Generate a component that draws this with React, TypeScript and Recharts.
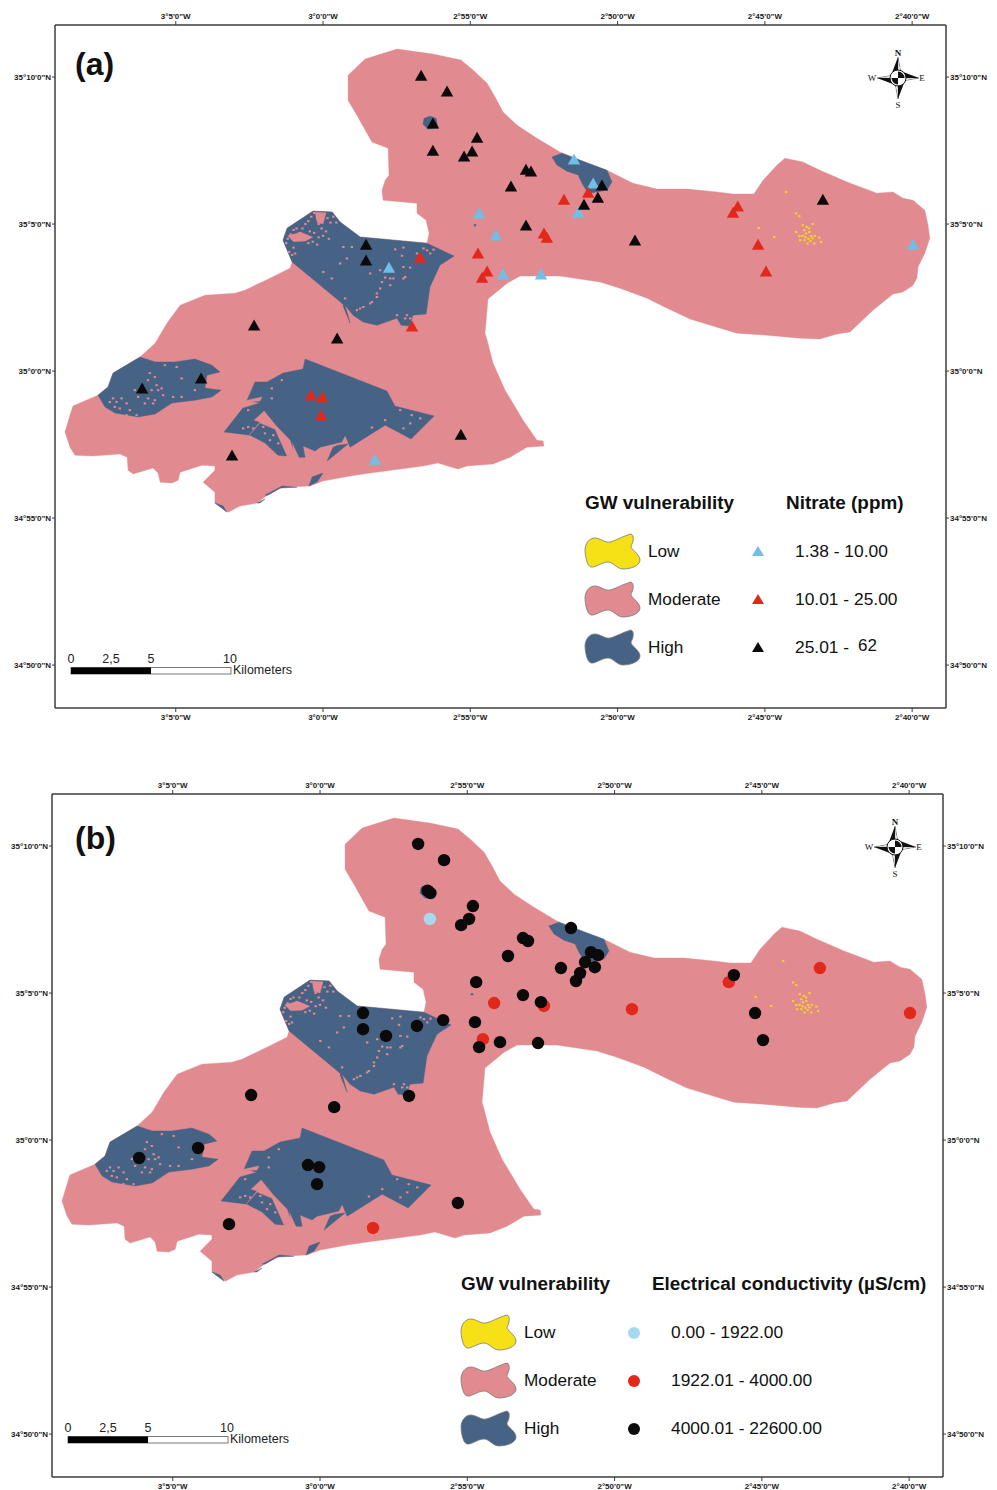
import { Scatter, ScatterChart, XAxis, YAxis } from 'recharts'

// all map data in arc minutes: x east of 3°W, y north of 35°N
type Pair = [number, number]

const lonTicks = [-5, 0, 5, 10, 15, 20]
const lonLabels = ['3°5\'0"W', '3°0\'0"W', '2°55\'0"W', '2°50\'0"W', '2°45\'0"W', '2°40\'0"W']
const latTicks = [10, 5, 0, -5, -10]
const latLabels = ['35°10\'0"N', '35°5\'0"N', '35°0\'0"N', '34°55\'0"N', '34°50\'0"N']

const moderateZone: Pair[] = [
  [0.85, 10.06], [1.43, 10.61], [2.51, 10.95], [3.73, 10.78], [4.68, 10.58], [5.09, 10.24], [5.57, 9.79], [5.84, 9.32],
  [6.11, 8.81], [6.59, 8.36], [7.26, 7.92], [8.04, 7.45], [8.96, 7.07], [9.64, 6.83], [10.18, 6.56], [10.52, 6.39],
  [11.34, 6.19], [12.36, 6.19], [13.37, 6.09], [13.92, 6.02], [14.63, 6.02], [14.94, 6.49], [15.41, 7.0], [15.68, 7.24],
  [16.29, 7.11], [16.87, 6.83], [17.79, 6.43], [18.8, 6.05], [19.35, 6.09], [19.69, 5.88], [20.03, 5.81], [20.43, 5.47],
  [20.54, 4.96], [20.6, 4.52], [20.43, 4.01], [20.2, 3.54], [20.16, 3.16], [20.03, 2.92], [19.69, 2.69], [19.35, 2.62],
  [18.67, 2.07], [17.89, 1.33], [17.45, 1.26], [16.87, 1.09], [16.19, 1.12], [15.07, 1.22], [14.05, 1.29], [13.24, 1.53],
  [12.46, 1.77], [11.68, 2.14], [11.0, 2.48], [10.08, 2.82], [9.4, 3.03], [8.04, 3.23], [6.69, 3.23], [6.25, 2.99],
  [5.6, 2.45], [5.5, 1.29], [5.57, 1.05], [5.77, 0.27], [6.18, -0.65], [6.79, -1.67], [7.26, -2.35], [7.47, -2.38],
  [7.5, -2.55], [6.92, -2.59], [6.35, -2.93], [5.77, -3.16], [4.89, -3.23], [4.58, -3.33], [3.9, -3.13], [3.39, -3.23],
  [1.6, -3.47], [0.92, -3.57], [0, -3.74], [-0.44, -3.91], [-1.36, -3.95], [-1.9, -4.22], [-2.24, -4.49], [-2.82, -4.59],
  [-3.22, -4.8], [-3.67, -4.49], [-3.67, -4.12], [-4.07, -3.78], [-3.67, -3.37], [-3.67, -3.23], [-4.11, -3.2], [-4.85, -3.44],
  [-4.92, -3.71], [-5.13, -3.81], [-5.53, -3.78], [-5.6, -3.47], [-5.77, -3.3], [-6.45, -3.5], [-6.62, -3.37], [-6.65, -2.93],
  [-6.89, -2.82], [-7.84, -2.89], [-8.42, -2.86], [-8.59, -2.59], [-8.76, -2.07], [-8.59, -1.5], [-8.49, -1.19], [-7.64, -0.82],
  [-7.3, -0.54], [-7.13, -0.07], [-6.21, 0.48], [-5.7, 0.95], [-5.3, 1.63], [-4.85, 2.24], [-4.01, 2.58], [-2.99, 2.65],
  [-2.65, 2.75], [-1.8, 3.16], [-1.12, 3.5], [-1.05, 3.71], [-1.36, 4.45], [-1.22, 4.86], [-0.34, 5.44], [0.31, 5.41],
  [0.58, 5.07], [1.26, 4.56], [3.53, 4.35], [3.6, 4.69], [3.5, 5.13], [3.19, 5.37], [3.19, 5.71], [2.04, 5.81],
  [2.0, 6.15], [2.11, 6.49], [2.24, 6.66], [2.21, 7.58], [1.66, 7.79], [1.15, 8.7], [0.85, 9.21]
]

const highNorth: Pair[] = [
  [-1.05, 3.71], [0.64, 2.31], [0.92, 1.63], [0.75, 2.24], [1.02, 1.9], [1.36, 1.67], [1.83, 1.56], [2.51, 1.8], [2.65, 1.56],
  [2.95, 1.53], [3.05, 1.9], [3.5, 1.94], [3.63, 2.86], [3.97, 3.6], [4.45, 3.91], [3.53, 4.35], [1.26, 4.56], [0.58, 5.07],
  [0.31, 5.41], [-0.34, 5.44], [-1.22, 4.86], [-1.36, 4.45]
]
const highWest: Pair[] = [
  [-6.21, 0.48], [-5.7, 0.31], [-5.03, 0.31], [-4.35, 0.41], [-3.77, 0.2], [-3.5, -0.03], [-3.94, -0.14], [-4.01, -0.58],
  [-3.46, -0.65], [-3.77, -0.88], [-4.35, -0.99], [-5.13, -1.09], [-5.7, -1.46], [-6.28, -1.56], [-7.06, -1.43], [-7.4, -1.22],
  [-7.64, -0.82], [-7.3, -0.54], [-7.13, -0.07]
]
const highSouth: Pair[] = [
  [-0.61, 0.41], [2.17, -0.68], [2.44, -1.19], [3.77, -1.53], [2.99, -2.31], [2.11, -1.84], [0.92, -2.59], [0.75, -2.18],
  [0.64, -2.41], [-0.1, -2.59], [-0.27, -2.72], [-0.68, -2.55], [-0.61, -2.93], [-0.81, -2.93], [-1.05, -2.41], [-1.02, -2.79],
  [-1.26, -2.89], [-1.53, -2.86], [-1.97, -2.45], [-2.48, -2.18], [-3.36, -2.07], [-2.72, -1.26], [-2.14, -1.09], [-2.58, -0.99],
  [-2.31, -0.37], [-1.9, -0.37], [-1.36, -0.07], [-0.68, 0.07]
]
const highNorthEast: Pair[] = [
  [7.77, 7.28], [8.11, 7.41], [9.64, 6.83], [9.81, 6.43], [9.64, 6.16], [9.3, 6.09], [9.0, 6.05], [8.79, 6.39], [8.66, 6.67],
  [8.28, 6.8], [7.94, 7.01]
]
const highBlob: Pair[] = [[3.43, 8.6], [3.63, 8.67], [3.84, 8.6], [3.9, 8.26], [3.56, 8.23], [3.39, 8.4]]
const highLens: Pair[] = [[0.85, -2.48], [0.14, -3.06], [0.34, -2.59], [0.51, -2.52]]
const highCoastA: Pair[] = [[-0.48, -3.91], [-0.37, -3.6], [0, -3.47], [-0.2, -3.77]]
const highCoastB: Pair[] = [[-1.97, -4.22], [-1.39, -3.91], [-0.88, -3.95], [-1.46, -3.98], [-1.87, -4.22]]
const highCoastC: Pair[] = [[-3.67, -4.49], [-3.39, -4.59], [-3.26, -4.8]]
const highCoastD: Pair[] = [[-2.24, -4.49], [-1.97, -4.35], [-2.14, -4.49]]

const moderateInlet: Pair[] = [
  [-2.51, -2.18], [-2.14, -1.73], [-2.34, -1.67], [-2.0, -1.36], [-1.6, -1.85], [-1.12, -2.35], [-0.98, -2.79], [-1.22, -2.89],
  [-1.63, -1.98], [-2.14, -1.77]
]
const moderateSliver: Pair[] = [[-2.58, -0.99], [-2.07, -0.88], [-2.14, -1.02], [-2.55, -1.05]]
const moderateStreakA: Pair[] = [[-0.27, 5.41], [0.1, 5.38], [0.0, 5.0], [-0.2, 5.05]]
const moderateStreakB: Pair[] = [[-1.2, 4.6], [-0.75, 4.72], [-0.35, 4.55], [-0.6, 4.42], [-1.0, 4.4]]

const moderateSpecks: Pair[] = [
  [0.69, 4.22], [0.98, 4.22], [2.45, 4.14], [2.73, 4.2], [3.53, 4.11], [3.75, 4.13], [2.68, 3.92], [3.19, 4.0], [0.81, 3.83],
  [0.58, 3.66], [1.94, 3.43], [2.73, 3.54], [2.28, 3.15], [2.79, 3.2], [2.0, 3.03], [2.28, 2.92], [1.83, 2.64], [1.66, 2.35],
  [1.26, 2.13], [0.64, 2.24], [2.51, 1.9], [2.85, 1.9], [2.96, 1.79], [0.75, 2.47], [1.15, 2.07], [0.3, 3.15], [1.6, 3.32],
  [1.94, 2.81], [0.01, 3.37], [2.73, 3.15], [2.39, 3.15], [2.11, 3.18], [2.96, 3.52], [1.83, 2.52], [1.6, 2.3], [1.37, 2.18],
  [2.79, 1.79], [3.41, 4.17], [3.64, 4.0],
  [-1.25, 4.35], [-1.2, 4.5], [-1.1, 4.65], [-1.0, 4.8], [-0.9, 4.85], [-0.8, 4.7], [-0.7, 4.85], [-0.6, 5.0], [-0.5, 5.1],
  [-0.4, 5.25], [-0.3, 5.38], [-0.2, 5.2], [-0.15, 5.0], [-0.05, 4.85], [0.05, 5.35], [0.15, 5.2], [0.25, 5.05], [0.35, 5.25],
  [0.45, 5.05], [0.1, 4.75], [0.0, 4.6], [-0.15, 4.55], [-0.3, 4.7], [-0.45, 4.75], [-0.55, 4.6], [-0.7, 4.45], [-0.85, 4.5],
  [-1.0, 4.2], [-1.15, 4.05], [-1.05, 3.95], [-0.95, 4.0], [-0.2, 4.3], [-0.35, 4.4], [-0.5, 4.35], [0.2, 4.5],
  [-7.13, -0.93], [-7.24, -1.05], [-7.01, -1.05], [-6.84, -0.93], [-7.07, -1.22], [-6.9, -1.27], [-6.67, -1.1], [-6.56, -1.33],
  [-6.39, -0.65], [-6.28, -0.88], [-5.88, -0.07], [-5.71, -0.2], [-5.94, -0.31], [-5.65, -0.48], [-5.48, -0.59], [-5.82, -0.65],
  [-5.6, -0.65], [-5.94, -0.93], [-5.71, -0.99], [-5.43, -0.82], [-5.09, -0.88], [-4.8, -0.88], [-4.8, -0.25], [-4.35, -0.65],
  [-5.37, 0.2], [-4.97, 0.14], [-5.77, -1.1], [-6.05, -1.1], [-6.67, -1.5], [-6.33, -1.5],
  [-1.4, -0.31], [-1.74, -0.59], [-1.74, -0.93], [-2.54, -1.33], [-2.54, -1.9], [-2.37, -1.95], [-2.03, -1.9], [-1.97, -2.12],
  [-1.69, -2.18], [-1.52, -2.46], [-1.8, -2.35], [-2.71, -1.95], [2.62, -1.33], [3.01, -1.5], [3.3, -1.61], [2.96, -1.78],
  [2.73, -1.95], [1.66, -1.92], [2.11, -1.67]
]
const highSpecks: Pair[] = [[5.16, 4.96], [8.96, 5.54]]
const lowSpecks: Pair[] = [
  [16.34, 4.79], [16.4, 4.68], [16.51, 4.73], [16.57, 4.59], [16.62, 4.51], [16.34, 4.45], [16.45, 4.34], [16.06, 4.73],
  [16.17, 4.59], [16.06, 5.36], [16.17, 5.27], [16.85, 4.54], [16.91, 4.39], [16.68, 4.34], [16.29, 4.96], [16.62, 5.0],
  [14.79, 4.87], [15.32, 4.56], [15.72, 6.09], [16.28, 4.6], [16.48, 4.5], [16.55, 4.42], [16.38, 4.55], [16.5, 4.85],
  [16.7, 4.6], [16.2, 4.45], [16.42, 4.9]
]

const nitrateLow: Pair[] = [
  [8.52, 7.18], [9.17, 6.36], [5.3, 5.34], [5.87, 4.59], [6.11, 3.27], [7.4, 3.27], [8.66, 5.37], [2.24, 3.5], [1.76, -3.03], [20.03, 4.28]
]
const nitrateMid: Pair[] = [
  [3.29, 3.84], [3.02, 1.5], [5.26, 3.98], [5.57, 3.37], [5.4, 3.16], [7.5, 4.66], [7.6, 4.52], [8.18, 5.81], [9.0, 6.05],
  [14.08, 5.58], [13.92, 5.37], [14.77, 4.28], [15.04, 3.37], [-0.41, -0.85], [-0.03, -0.92], [-0.07, -1.53]
]
const nitrateHigh: Pair[] = [
  [3.33, 10.03], [4.21, 9.49], [3.73, 8.4], [3.73, 7.48], [5.23, 7.92], [5.06, 7.45], [4.79, 7.28], [6.89, 6.83], [7.06, 6.77],
  [6.38, 6.26], [6.89, 4.93], [8.86, 5.64], [9.33, 5.88], [9.47, 6.29], [10.59, 4.42], [16.97, 5.81], [1.46, 4.28], [1.46, 3.74],
  [-2.34, 1.53], [0.48, 1.09], [-6.14, -0.61], [-4.14, -0.27], [4.68, -2.18], [-3.09, -2.89]
]

const ecLow: Pair[] = [[3.73, 7.52]]
const ecMid: Pair[] = [[5.91, 4.66], [7.6, 4.56], [5.53, 3.43], [10.59, 4.45], [13.88, 5.37], [16.97, 5.85], [20.03, 4.32], [1.8, -2.99]]
const ecHigh: Pair[] = [
  [3.33, 10.07], [4.21, 9.52], [3.65, 8.48], [3.75, 8.4], [5.19, 7.96], [5.06, 7.52], [4.79, 7.31], [6.89, 6.87], [7.06, 6.77],
  [6.38, 6.26], [8.52, 7.21], [9.2, 6.39], [9.44, 6.29], [9.0, 6.05], [9.33, 5.88], [8.18, 5.85], [8.83, 5.68], [8.69, 5.41],
  [5.3, 5.37], [6.89, 4.93], [7.5, 4.69], [4.18, 4.08], [5.26, 4.01], [6.11, 3.33], [5.4, 3.16], [7.4, 3.3], [3.29, 3.88],
  [2.24, 3.54], [1.46, 4.32], [1.46, 3.77], [14.05, 5.61], [14.77, 4.32], [15.04, 3.4], [-2.34, 1.53], [0.48, 1.12], [3.02, 1.5],
  [-6.14, -0.61], [-4.14, -0.27], [-0.41, -0.85], [-0.03, -0.92], [-0.1, -1.5], [4.68, -2.14], [-3.09, -2.86]
]

const PINK = '#e18a90'
const NAVY = '#466285'
const YELLOW = '#f6e116'
const SPECK_YELLOW = '#f5d32a'
const RED = '#e2281b'
const SKY = '#6fbfe6'
const PALE = '#a6d8f0'
const BLACK = '#0a0a0a'
const FONT = 'Liberation Sans, Arial, sans-serif'

const toRows = (pairs: Pair[]) => pairs.map(([x, y]) => ({ x, y }))

const Nothing = () => <g />

const triangle = (fill: string) => (p: any) => (
  <polygon points={`${p.cx},${p.cy - 6.5} ${p.cx + 6.2},${p.cy + 4.5} ${p.cx - 6.2},${p.cy + 4.5}`} fill={fill} />
)
const dot = (fill: string) => (p: any) => <circle cx={p.cx} cy={p.cy} r={6.2} fill={fill} />
const speck = (fill: string) => (p: any) => <rect x={p.cx - 1.2} y={p.cy - 1} width={2.4} height={2} fill={fill} />

const zones: { name: string; pairs: Pair[]; fill: string }[] = [
  { name: 'moderate', pairs: moderateZone, fill: PINK },
  { name: 'north', pairs: highNorth, fill: NAVY },
  { name: 'west', pairs: highWest, fill: NAVY },
  { name: 'south', pairs: highSouth, fill: NAVY },
  { name: 'northeast', pairs: highNorthEast, fill: NAVY },
  { name: 'blob', pairs: highBlob, fill: NAVY },
  { name: 'lens', pairs: highLens, fill: NAVY },
  { name: 'coastA', pairs: highCoastA, fill: NAVY },
  { name: 'coastB', pairs: highCoastB, fill: NAVY },
  { name: 'coastC', pairs: highCoastC, fill: NAVY },
  { name: 'coastD', pairs: highCoastD, fill: NAVY },
  { name: 'inlet', pairs: moderateInlet, fill: PINK },
  { name: 'sliver', pairs: moderateSliver, fill: PINK },
  { name: 'streakA', pairs: moderateStreakA, fill: PINK },
  { name: 'streakB', pairs: moderateStreakB, fill: PINK }
]

const tickStyle = { fontSize: 8, fontFamily: FONT, fill: '#1a1a1a', fontWeight: 600 }
const axisLine = { stroke: '#3c3c3c', strokeWidth: 1.5 }
const tickLine = { stroke: '#3c3c3c' }
const lonText = (v: number) => lonLabels[lonTicks.indexOf(v)]
const latText = (v: number) => latLabels[latTicks.indexOf(v)]

function MapPanel({ series }: { series: { name: string; pairs: Pair[]; shape: any }[] }) {
  const common = { xAxisId: 'bottom', yAxisId: 'left', dataKey: 'y', isAnimationActive: false }
  return (
    <ScatterChart width={997} height={740} margin={{ top: 5, right: 5, bottom: 12, left: 5 }}>
      <XAxis
        xAxisId="top"
        orientation="top"
        type="number"
        dataKey="x"
        domain={[-9.1, 21.15]}
        ticks={lonTicks}
        tickFormatter={lonText}
        height={20}
        tick={tickStyle}
        axisLine={axisLine}
        tickLine={tickLine}
        tickSize={4}
        tickMargin={2}
        interval={0}
        allowDataOverflow
      />
      <XAxis
        xAxisId="bottom"
        orientation="bottom"
        type="number"
        dataKey="x"
        domain={[-9.1, 21.15]}
        ticks={lonTicks}
        tickFormatter={lonText}
        height={20}
        tick={tickStyle}
        axisLine={axisLine}
        tickLine={tickLine}
        tickSize={4}
        tickMargin={2}
        interval={0}
        allowDataOverflow
      />
      <YAxis
        yAxisId="left"
        orientation="left"
        type="number"
        dataKey="y"
        domain={[-11.46, 11.77]}
        ticks={latTicks}
        tickFormatter={latText}
        width={50}
        tick={tickStyle}
        axisLine={axisLine}
        tickLine={tickLine}
        tickSize={3}
        tickMargin={1}
        interval={0}
        allowDataOverflow
      />
      <YAxis
        yAxisId="right"
        orientation="right"
        type="number"
        dataKey="y"
        domain={[-11.46, 11.77]}
        ticks={latTicks}
        tickFormatter={latText}
        width={46}
        tick={tickStyle}
        axisLine={axisLine}
        tickLine={tickLine}
        tickSize={3}
        tickMargin={1}
        interval={0}
        allowDataOverflow
      />
      {/* both unused axes still need an item to stay alive */}
      <Scatter xAxisId="top" yAxisId="right" data={[]} isAnimationActive={false} shape={Nothing} />
      {zones.map((z) => (
        <Scatter
          key={z.name}
          {...common}
          data={toRows(z.pairs)}
          shape={Nothing}
          line={{ fill: z.fill, stroke: z.fill, strokeWidth: 0.4 }}
          lineJointType="linearClosed"
        />
      ))}
      <Scatter {...common} data={toRows(moderateSpecks)} shape={speck(PINK)} />
      <Scatter {...common} data={toRows(highSpecks)} shape={speck(NAVY)} />
      <Scatter {...common} data={toRows(lowSpecks)} shape={speck(SPECK_YELLOW)} />
      {series.map((s) => (
        <Scatter key={s.name} {...common} data={toRows(s.pairs)} shape={s.shape} />
      ))}
    </ScatterChart>
  )
}

const BLOB = 'M0 15 C1 7 6 4 10 4 C15 4 20 9 25 8 C30 7 38 2 46 0 C49 1 49 7 46 12 C45 15 55 20 55 26 C55 32 45 35 38 35 C32 35 28 28 23 28 C17 28 10 34 6 33 C2 32 0 22 0 15Z'

function Compass({ x, y }: { x: number; y: number }) {
  return (
    <g transform={`translate(${x},${y})`}>
      <path d="M0 -21 L2.6 -7 L21 0 L7 2.6 L0 21 L-2.6 7 L-21 0 L-7 -2.6Z" fill="#111" />
      <path d="M0 -21 L0 -7 L2.6 -7Z M21 0 L7 0 L7 2.6Z M0 21 L0 7 L-2.6 7Z M-21 0 L-7 0 L-7 -2.6Z" fill="#fff" stroke="#111" strokeWidth={0.3} />
      <circle r={8} fill="#fff" stroke="#111" strokeWidth={1} />
      <path d="M0 0 L0 -6.5 A6.5 6.5 0 0 1 6.5 0Z M0 0 L0 6.5 A6.5 6.5 0 0 1 -6.5 0Z" fill="#111" />
      <g fontFamily="Liberation Serif, serif" fontSize={9} fill="#111" textAnchor="middle">
        <text y={-22} fontWeight="bold">N</text>
        <text y={30}>S</text>
        <text x={-26} y={3}>W</text>
        <text x={24} y={3}>E</text>
      </g>
    </g>
  )
}

function ScaleBar({ x, y }: { x: number; y: number }) {
  return (
    <g transform={`translate(${x},${y})`} fontFamily={FONT} fontSize={12.5} fill="#222">
      <rect x={0} y={-0.5} width={160} height={6.5} fill="#fff" stroke="#777" strokeWidth={1} />
      <rect x={0} y={-0.5} width={80} height={6.5} fill="#000" />
      <text x={0} y={-5} textAnchor="middle">0</text>
      <text x={40} y={-5} textAnchor="middle">2,5</text>
      <text x={80} y={-5} textAnchor="middle">5</text>
      <text x={159} y={-5} textAnchor="middle">10</text>
      <text x={162} y={6}>Kilometers</text>
    </g>
  )
}

type LegendProps = {
  x: number
  y: number
  title: string
  titleX: number
  markerX: number
  textX: number
  labels: string[]
  markers: React.ReactNode[]
}

function MapLegend({ x, y, title, titleX, markerX, textX, labels, markers }: LegendProps) {
  const names = ['Low', 'Moderate', 'High']
  const fills = [YELLOW, PINK, NAVY]
  return (
    <g fontFamily={FONT} fill="#111">
      <text x={x} y={y} fontSize={18.9} fontWeight="bold">GW vulnerability</text>
      <text x={titleX} y={y} fontSize={18.9} fontWeight="bold">{title}</text>
      {names.map((name, i) => (
        <g key={name}>
          <path d={BLOB} transform={`translate(${x},${y + 25 + i * 48})`} fill={fills[i]} stroke="#777" strokeWidth={0.8} />
          <text x={x + 63} y={y + 48 + i * 48} fontSize={17.2}>{name}</text>
          <g transform={`translate(${markerX},${y + 43 + i * 48})`}>{markers[i]}</g>
          <text x={textX} y={y + 48 + i * 48} fontSize={17.4}>{labels[i]}</text>
        </g>
      ))}
    </g>
  )
}

const smallTriangle = (fill: string) => (
  <polygon points="0,-6 6,4 -6,4" fill={fill} />
)
const smallDot = (fill: string) => <circle r={6} fill={fill} />

export default function App() {
  return (
    <div style={{ position: 'absolute', left: 0, top: 0, width: 997, height: 1490, overflow: 'hidden', background: '#fff' }}>
      <div style={{ position: 'absolute', left: 0, top: 0 }}>
        <MapPanel
          series={[
            { name: 'low', pairs: nitrateLow, shape: triangle(SKY) },
            { name: 'mid', pairs: nitrateMid, shape: triangle(RED) },
            { name: 'high', pairs: nitrateHigh, shape: triangle(BLACK) }
          ]}
        />
      </div>
      <div style={{ position: 'absolute', left: -3, top: 769 }}>
        <MapPanel
          series={[
            { name: 'low', pairs: ecLow, shape: dot(PALE) },
            { name: 'mid', pairs: ecMid, shape: dot(RED) },
            { name: 'high', pairs: ecHigh, shape: dot(BLACK) }
          ]}
        />
      </div>
      <svg width={997} height={1490} style={{ position: 'absolute', left: 0, top: 0, pointerEvents: 'none' }}>
        <text x={75} y={75} fontFamily={FONT} fontSize={32} fontWeight="bold" fill="#111">(a)</text>
        <text x={75} y={849} fontFamily={FONT} fontSize={32} fontWeight="bold" fill="#111">(b)</text>
        <Compass x={898} y={78} />
        <Compass x={895} y={847} />
        <ScaleBar x={71} y={668} />
        <ScaleBar x={68} y={1437} />
        <MapLegend
          x={585}
          y={509}
          title="Nitrate (ppm)"
          titleX={786}
          markerX={758}
          textX={795}
          labels={['1.38 - 10.00', '10.01 - 25.00', '25.01 - ']}
          markers={[smallTriangle(SKY), smallTriangle(RED), smallTriangle(BLACK)]}
        />
        <text x={858} y={651} fontFamily={FONT} fontSize={17} fill="#111">62</text>
        <MapLegend
          x={461}
          y={1290}
          title="Electrical conductivity (µS/cm)"
          titleX={652}
          markerX={634}
          textX={671}
          labels={['0.00 - 1922.00', '1922.01 - 4000.00', '4000.01 - 22600.00']}
          markers={[smallDot(PALE), smallDot(RED), smallDot(BLACK)]}
        />
      </svg>
    </div>
  )
}
